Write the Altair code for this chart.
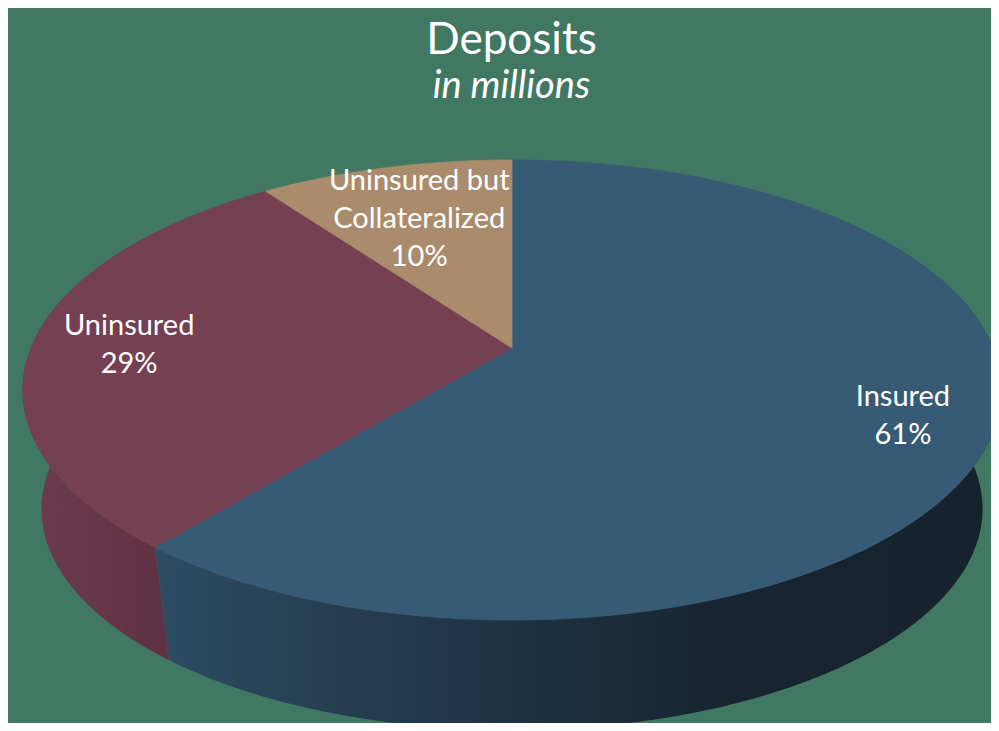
import math
import altair as alt
import pandas as pd

# ---- data ----
categories = ["Insured", "Uninsured", "Uninsured but\nCollateralized"]
values = [61, 29, 10]
pct_labels = ["61%", "29%", "10%"]

# ---- styles ----
top_colors = ["#375b74", "#744052", "#aa8b6c"]
side_stops = [
    [("#2d4c62", 0.0), ("#273f52", 0.2), ("#1f3445", 0.4), ("#182632", 0.65), ("#16222b", 1.0)],
    [("#6b3b4e", 0.0), ("#5f3243", 1.0)],
    [("#8a6f56", 0.0), ("#7a624c", 1.0)],
]
label_r = [0.82, 0.8, 0.7]
BG = "#417863"
LINE_H = 38

W, H = 983, 605
PAD_TOP = 110
OX, OY = 8, 8 + PAD_TOP
CX, CY = 512 - OX, 348 - OY          # pie centre (top face)
A, B, P = 481.0, 222.3, 0.1826       # ellipse half-axes and perspective
VPY, S = 3500.0 - OY, 0.9618         # vanishing point / depth scale for the bottom rim


def proj(theta_deg, r=1.0):
    t = math.radians(theta_deg)
    u, v = r * math.sin(t), r * math.cos(t)
    d = 1 + P * v
    return [CX + A * u / d, CY - B * v / d]


def bottom(pt):
    x, y = pt
    return [CX + (x - CX) * S, VPY + (y - VPY) * S]


def arc(t1, t2, step=0.5):
    n = max(2, int(abs(t2 - t1) / step) + 1)
    return [proj(t1 + (t2 - t1) * i / (n - 1)) for i in range(n)]


total = sum(values)
starts, ends = [], []
acc = 0.0
for v in values:
    starts.append(acc / total * 360)
    acc += v
    ends.append(acc / total * 360)

top_features = []
side_features = []
label_rows = []
for i, cat in enumerate(categories):
    t1, t2 = starts[i], ends[i]
    ring = [[CX, CY]] + arc(t1, t2) + [[CX, CY]]
    top_features.append({"type": "Feature", "properties": {"fill": top_colors[i]},
                         "geometry": {"type": "Polygon", "coordinates": [ring]}})
    lo, hi = max(t1, 75), min(t2, 285)
    if lo < hi:
        up = arc(lo, hi)
        down = [bottom(p) for p in reversed(up)]
        sring = up + down + [up[0]]
        side_features.append((i, {"type": "Feature", "properties": {"fill": top_colors[i]},
                                  "geometry": {"type": "Polygon", "coordinates": [sring]}}))
    mid = (t1 + t2) / 2
    lx, ly = proj(mid, label_r[i])
    text = cat + "\n" + pct_labels[i]
    n_lines = text.count("\n") + 1
    label_rows.append({"lon": lx, "lat": ly - (n_lines - 1) * LINE_H / 2 + 3, "text": text})

projection = dict(type="identity", scale=1, translate=[0, 0])

layers = []
for i, feat in side_features:
    grad = alt.Gradient(gradient="linear",
                        stops=[alt.GradientStop(color=c, offset=o) for c, o in side_stops[i]],
                        x1=0, x2=1, y1=0, y2=0)
    layers.append(
        alt.Chart(alt.Data(values=[feat])).mark_geoshape(fill=grad, strokeWidth=0)
        .project(**projection)
    )

layers.append(
    alt.Chart(alt.Data(values=top_features)).mark_geoshape(strokeWidth=0.8)
    .encode(fill=alt.Fill("properties.fill:N", scale=None),
            stroke=alt.Stroke("properties.fill:N", scale=None))
    .project(**projection)
)

layers.append(
    alt.Chart(pd.DataFrame(label_rows)).mark_text(
        font="Lato", fontSize=29, color="white", align="center", baseline="middle",
        lineBreak="\n", lineHeight=LINE_H)
    .encode(longitude="lon:Q", latitude="lat:Q", text="text:N")
    .project(**projection)
)

chart = alt.layer(*layers).properties(
    width=W, height=H,
    padding={"left": 0, "top": PAD_TOP, "right": 0, "bottom": 0},
    autosize=alt.AutoSizeParams(type="none"),
    background=BG,
    title=alt.Title("Deposits", subtitle="in millions", font="Lato", fontSize=44,
                    fontWeight="normal", color="white", subtitleFont="Lato",
                    subtitleFontSize=38, subtitleFontStyle="italic", subtitleColor="white",
                    anchor="middle", dx=12, offset=12, subtitlePadding=5),
).configure_view(stroke=None)

chart.save("out.html", embed_options={"renderer": "svg", "actions": False})
